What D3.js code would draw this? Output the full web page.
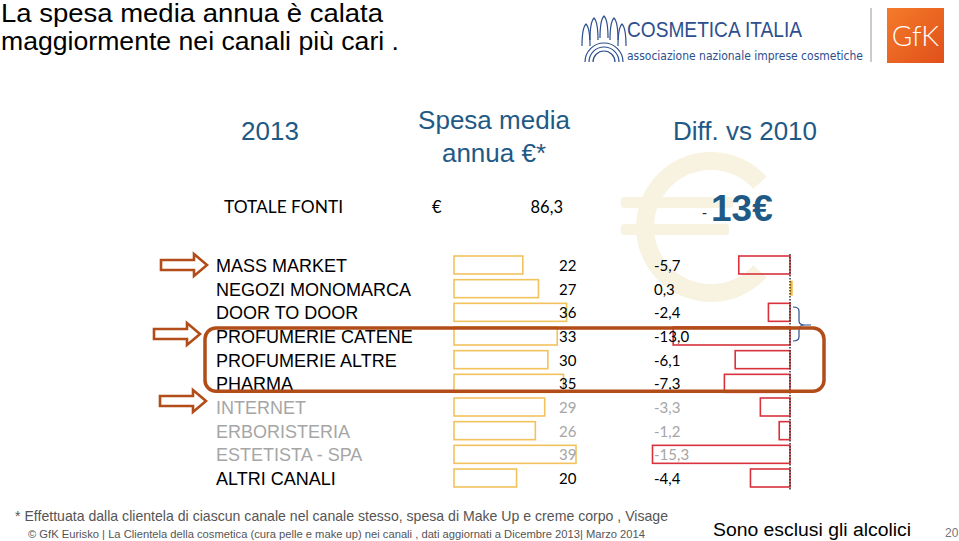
<!DOCTYPE html>
<html><head><meta charset="utf-8">
<script src="https://cdn.jsdelivr.net/npm/d3@7"></script>
<style>html,body{margin:0;padding:0;background:#fff;overflow:hidden}</style>
</head><body>
<script>
const categories = ["MASS MARKET","NEGOZI MONOMARCA","DOOR TO DOOR","PROFUMERIE CATENE","PROFUMERIE ALTRE","PHARMA","INTERNET","ERBORISTERIA","ESTETISTA - SPA","ALTRI CANALI"];
const spesa2013 = [22,27,36,33,30,35,29,26,39,20];
const diffVs2010 = [-5.7,0.3,-2.4,-13.0,-6.1,-7.3,-3.3,-1.2,-15.3,-4.4];
const greyed = ["INTERNET","ERBORISTERIA","ESTETISTA - SPA"];
const totaleFonti = 86.3;
const totaleDiff = -13;
const arrowed = ["MASS MARKET","PROFUMERIE CATENE","INTERNET"];
const highlighted = ["PROFUMERIE CATENE","PHARMA"];

const W=959,H=541;
const svg=d3.select("body").append("svg").attr("width",W).attr("height",H);
const fmt = v => d3.format(".1f")(v).replace(".",",").replace("\u2212","-");
const blue="#1f5a86", brown="#b24d19";

// background euro (decorative)
const eu=svg.append("g").attr("fill","#f8f3e1");
eu.append("path").attr("transform","translate(711,227)")
  .attr("d",d3.arc()({innerRadius:57,outerRadius:75,startAngle:48*Math.PI/180,endAngle:-228*Math.PI/180,cornerRadius:3}));
eu.append("rect").attr("x",621).attr("y",197).attr("width",112).attr("height",11).attr("rx",3);
eu.append("rect").attr("x",621).attr("y",224).attr("width",108).attr("height",11).attr("rx",3);

// title
const title=svg.append("g").attr("font-family","Liberation Sans, Arial").attr("font-size",25).attr("fill","#000");
title.append("text").attr("x",1).attr("y",22).attr("textLength",382).attr("lengthAdjust","spacingAndGlyphs").text("La spesa media annua è calata");
title.append("text").attr("x",1).attr("y",50).attr("textLength",398).attr("lengthAdjust","spacingAndGlyphs").text("maggiormente nei canali più cari .");

// logos
const logo=svg.append("g");
const lg=logo.append("g").attr("fill","none").attr("stroke","#2d4f8e").attr("stroke-width",1.2);
[19,15,11].forEach(r=>{
  lg.append("path").attr("d",d3.arc()({innerRadius:r,outerRadius:r,startAngle:-Math.PI/2,endAngle:Math.PI/2})).attr("transform","translate(604,62)");
});
[[586,46],[594,40],[604,38],[614,40],[622,46]].forEach(([x,yy])=>{
  lg.append("path").attr("d",`M${x-4},${yy} q0,-18 4,-22 q4,4 4,22`);
});
logo.append("text").attr("x",627).attr("y",37).attr("font-family","Liberation Sans, Arial").attr("font-size",22).attr("fill","#2d4f8e")
  .attr("textLength",175).attr("lengthAdjust","spacingAndGlyphs").text("COSMETICA  ITALIA");
logo.append("text").attr("x",627).attr("y",60).attr("font-family","DejaVu Sans, sans-serif").attr("font-size",12).attr("fill","#2d4f8e")
  .attr("textLength",236).attr("lengthAdjust","spacingAndGlyphs").text("associazione nazionale imprese cosmetiche");
logo.append("line").attr("x1",871).attr("x2",871).attr("y1",8).attr("y2",62).attr("stroke","#aaa").attr("stroke-width",1.2);
const defs=svg.append("defs");
const gr=defs.append("linearGradient").attr("id","gfk").attr("x1",0).attr("y1",0).attr("x2",1).attr("y2",1);
gr.append("stop").attr("offset","0%").attr("stop-color","#f47b2a");
gr.append("stop").attr("offset","100%").attr("stop-color","#e0501a");
logo.append("rect").attr("x",887).attr("y",8).attr("width",57).attr("height",55).attr("fill","url(#gfk)");
logo.append("text").attr("x",915.5).attr("y",46).attr("text-anchor","middle").attr("font-family","Lato, sans-serif").attr("font-weight",300)
  .attr("font-size",28).attr("fill","#fff").text("GfK");

// headers
const hd=svg.append("g").attr("font-family","Liberation Sans, Arial").attr("font-size",26).attr("fill",blue).attr("text-anchor","middle");
hd.append("text").attr("x",270).attr("y",140).text("2013");
hd.append("text").attr("x",494).attr("y",129).text("Spesa media");
hd.append("text").attr("x",494).attr("y",162).text("annua €*");
hd.append("text").attr("x",745).attr("y",140).text("Diff. vs 2010");

// totale row
const tf=svg.append("g").attr("font-family","Lato, sans-serif").attr("font-size",16.5).attr("fill","#000");
tf.append("text").attr("x",224).attr("y",213).attr("textLength",119).attr("lengthAdjust","spacingAndGlyphs").text("TOTALE FONTI");
tf.append("text").attr("x",432).attr("y",213).text("€");
tf.append("text").attr("x",563).attr("y",213).attr("text-anchor","end").text(fmt(totaleFonti));
svg.append("text").attr("x",702).attr("y",218).attr("font-family","Liberation Sans, Arial").attr("font-size",15).attr("fill","#222").text("-");
svg.append("text").attr("x",711).attr("y",221).attr("font-family","Liberation Sans, Arial").attr("font-weight","bold").attr("font-size",37)
  .attr("fill",blue).text(Math.abs(totaleDiff)+"€");

// scales
const y=d3.scalePoint().domain(categories).range([265,478]);
const xL=d3.scaleLinear().domain([0,39]).range([454,576]);
const xR=d3.scaleLinear().domain([-15.3,0]).range([652.5,790]);
const bh=18;
const isGrey=c=>greyed.includes(c);

// labels
svg.append("g").selectAll("text").data(categories).join("text")
  .attr("x",216).attr("y",d=>y(d)+7).attr("font-family","Liberation Sans, Arial").attr("font-size",18)
  .attr("fill",d=>isGrey(d)?"#a6a6a6":"#000").text(d=>d);

// left bars
svg.append("g").selectAll("rect").data(spesa2013).join("rect")
  .attr("x",xL(0)).attr("y",(d,i)=>y(categories[i])-bh/2).attr("width",d=>xL(d)-xL(0)).attr("height",bh)
  .attr("fill","#fff").attr("fill-opacity",0.6).attr("stroke","#f2c25c").attr("stroke-width",1.6);
svg.append("g").selectAll("text").data(spesa2013).join("text")
  .attr("x",559).attr("y",(d,i)=>y(categories[i])+6).attr("font-family","Lato, sans-serif").attr("font-size",15)
  .attr("fill",(d,i)=>isGrey(categories[i])?"#a6a6a6":"#000").text(d=>d);

// right bars
svg.append("g").selectAll("rect").data(diffVs2010).join("rect")
  .attr("x",d=>xR(Math.min(0,d))).attr("y",(d,i)=>y(categories[i])-bh/2 + (d>0?1:0)).attr("width",d=>Math.abs(xR(d)-xR(0)))
  .attr("height",d=>d>0?15:bh)
  .attr("fill",d=>d>0?"#f2b835":"none").attr("stroke",d=>d>0?"none":"#d8323c").attr("stroke-width",1.6);
svg.append("line").attr("x1",xR(0)).attr("x2",xR(0)).attr("y1",254).attr("y2",490)
  .attr("stroke","#333").attr("stroke-width",1.5).attr("stroke-dasharray","1.5,1.5");
svg.append("g").selectAll("text").data(diffVs2010).join("text")
  .attr("x",654).attr("y",(d,i)=>y(categories[i])+6).attr("font-family","Lato, sans-serif").attr("font-size",15)
  .attr("fill",(d,i)=>isGrey(categories[i])?"#a6a6a6":"#000").text(d=>fmt(d));

// blue bracket
svg.append("path").attr("d","M793,307 q6,0 6,4 v10 q0,4 6,4 h6 M805,325 q-6,0 -6,4 v8 q0,4 -6,4")
  .attr("fill","none").attr("stroke","#2d4f8e").attr("stroke-width",1.2);

// highlight rounded rect
const hy0=y(highlighted[0])-8, hy1=y(highlighted[1])+8;
svg.append("rect").attr("x",205).attr("y",hy0).attr("width",619).attr("height",hy1-hy0).attr("rx",11)
  .attr("fill","none").attr("stroke",brown).attr("stroke-width",3.5);

// arrows
const arrowX={"MASS MARKET":161,"PROFUMERIE CATENE":154,"INTERNET":160};
const arrowDy={"MASS MARKET":0,"PROFUMERIE CATENE":-2,"INTERNET":-6};
svg.append("g").selectAll("path").data(arrowed).join("path")
  .attr("d","M0,-5 L33,-5 L33,-11 L46,0 L33,11 L33,5 L0,5 Z")
  .attr("transform",d=>`translate(${arrowX[d]},${y(d)+arrowDy[d]})`)
  .attr("fill","#fff").attr("stroke",brown).attr("stroke-width",2.6).attr("stroke-linejoin","miter");

// footer
const ft=svg.append("g").attr("font-family","Liberation Sans Narrow, Arial Narrow, Liberation Sans, Arial").attr("fill","#555");
ft.append("text").attr("x",15).attr("y",521).attr("font-size",15).attr("textLength",653).attr("lengthAdjust","spacingAndGlyphs")
  .text("* Effettuata dalla clientela di ciascun canale nel canale stesso, spesa di Make Up e creme corpo , Visage");
ft.append("text").attr("x",28).attr("y",538).attr("font-size",11.5).attr("textLength",617).attr("lengthAdjust","spacingAndGlyphs")
  .text("© GfK Eurisko | La Clientela della cosmetica (cura pelle e make up) nei canali , dati aggiornati a Dicembre 2013| Marzo 2014");
ft.append("text").attr("x",713).attr("y",536).attr("font-size",18).attr("fill","#000").attr("textLength",198).attr("lengthAdjust","spacingAndGlyphs")
  .text("Sono esclusi gli alcolici");
ft.append("text").attr("x",945).attr("y",537).attr("font-size",12).attr("fill","#777").text("20");
</script>
</body></html>
